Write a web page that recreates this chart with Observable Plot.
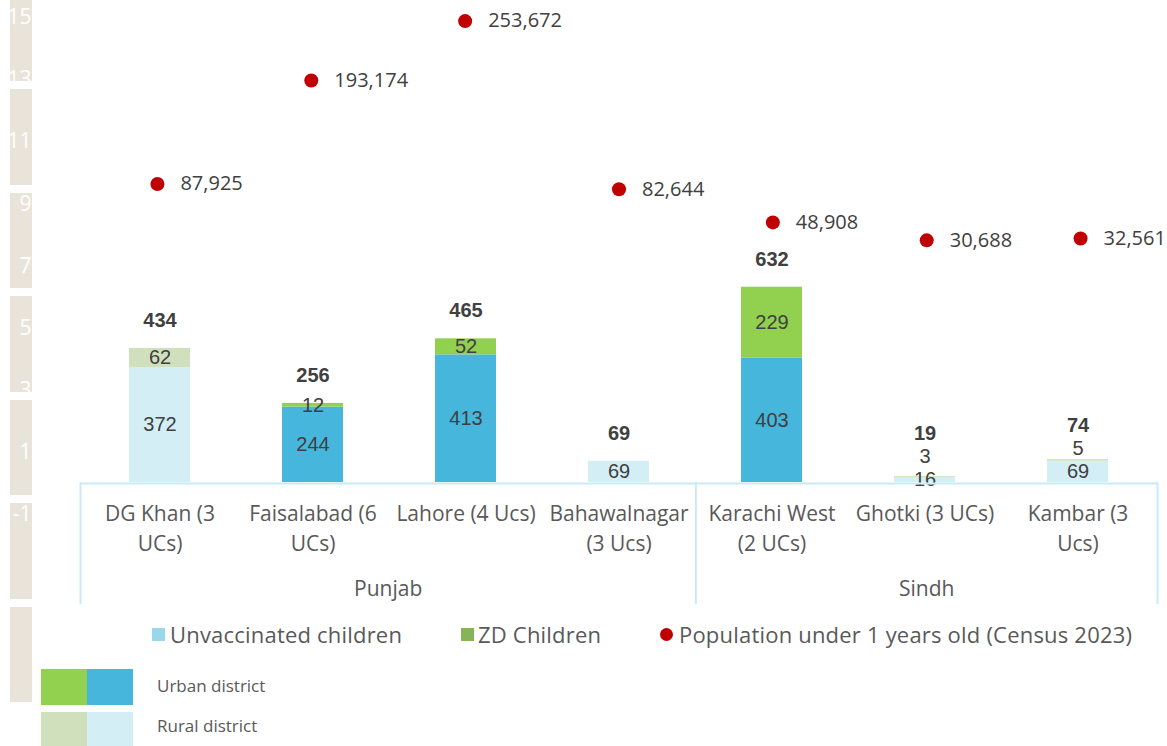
<!DOCTYPE html>
<html><head><meta charset="utf-8">
<script src="https://cdn.jsdelivr.net/npm/d3@7"></script>
<script src="https://cdn.jsdelivr.net/npm/@observablehq/plot@0.6"></script>
<style>
body{margin:0;background:#fff;}
#wrap{position:relative;width:1167px;height:746px;overflow:hidden;font-family:"Open Sans",sans-serif;}
.layer{position:absolute;left:0;}
.box{position:absolute;left:10px;width:22px;background:#e8e4da;}
.leg{position:absolute;font-size:22px;letter-spacing:0.2px;color:#595959;line-height:28px;white-space:nowrap;}
.sw{position:absolute;}
.small{position:absolute;font-size:17px;color:#595959;line-height:22px;}
</style></head><body><div id="wrap"></div>
<script>
// ---- data ----
const districts = ["DG Khan (3 UCs)", "Faisalabad (6 UCs)", "Lahore (4 Ucs)", "Bahawalnagar (3 Ucs)", "Karachi West (2 UCs)", "Ghotki (3 UCs)", "Kambar (3 Ucs)"];
const tickLabels = ["DG Khan (3\nUCs)", "Faisalabad (6\nUCs)", "Lahore (4 Ucs)", "Bahawalnagar\n(3 Ucs)", "Karachi West\n(2 UCs)", "Ghotki (3 UCs)", "Kambar (3\nUcs)"];
const provinces = ["Punjab", "Punjab", "Punjab", "Punjab", "Sindh", "Sindh", "Sindh"];
const districtType = ["Rural", "Urban", "Urban", "Rural", "Urban", "Rural", "Rural"];
const unvaccinated = [372, 244, 413, 69, 403, 16, 69];
const zdChildren = [62, 12, 52, 0, 229, 3, 5];
const totals = [434, 256, 465, 69, 632, 19, 74];
const population = [87925, 193174, 253672, 82644, 48908, 30688, 32561];
const sideTicks = [15, 13, 11, 9, 7, 5, 3, 1, -1];

const wrap = document.getElementById("wrap");
const FONT = '"Open Sans", sans-serif';
const NUMFONT = '"Liberation Sans", Arial, sans-serif';

// ---- left decorative strip ----
for (let k = 0; k < 7; k++) {
  const b = document.createElement("div");
  b.className = "box";
  b.style.top = (-14.5 + 103.5 * k) + "px";
  b.style.height = "95.5px";
  wrap.appendChild(b);
}
const side = Plot.plot({
  width: 40, height: 746, marginLeft: 31, marginRight: 9, marginTop: 0, marginBottom: 0,
  style: {fontFamily: FONT, background: "transparent", color: "#fff", overflow: "visible"},
  y: {domain: [-1, 15], range: [514, 17]},
  marks: [
    Plot.axisY({ticks: sideTicks, anchor: "left", tickSize: 0, tickPadding: 0, fontSize: 21, tickFormat: d => String(d), label: null})
  ]
});
side.classList.add("layer"); side.style.top = "0px";
wrap.appendChild(side);

// ---- main bars ----
const Y_MAX = 1560, BASE = 482;
const pxPerUnit = BASE / Y_MAX;
const segs = [];
const labels = [];
const totalData = [];
districts.forEach((d, i) => {
  const u = unvaccinated[i], z = zdChildren[i];
  segs.push({district: d, key: districtType[i] + " unvac", value: u});
  segs.push({district: d, key: districtType[i] + " zd", value: z});
  const uMid = u / 2;
  labels.push({district: d, y: uMid, text: u});
  let topLabel = uMid;
  if (z > 0) {
    const zy = Math.max(u + z / 2, uMid + 23 / pxPerUnit);
    labels.push({district: d, y: zy, text: z});
    topLabel = zy;
  }
  // total label: above bar top, kept clear of the highest segment label
  const ty = Math.max(totals[i] + 28 / pxPerUnit, topLabel + 23 / pxPerUnit);
  totalData.push({district: d, y: ty, total: totals[i]});
});

const main = Plot.plot({
  width: 1167, height: 610, marginTop: 0, marginBottom: 610 - BASE, marginLeft: 80, marginRight: 10,
  style: {fontFamily: FONT, background: "transparent", color: "#595959", overflow: "visible"},
  x: {domain: districts, paddingInner: 0.6, paddingOuter: 0.3, label: null},
  y: {domain: [0, Y_MAX], axis: null},
  color: {domain: ["Urban unvac", "Urban zd", "Rural unvac", "Rural zd"], range: ["#46b6dc", "#92d050", "#d4eef6", "#d0dfbc"]},
  marks: [
    Plot.barY(segs, {x: "district", y: "value", fill: "key"}),
    Plot.text(labels, {x: "district", y: "y", text: "text", fontSize: 20, fontFamily: NUMFONT, fill: "#404040"}),
    Plot.text(totalData, {x: "district", y: "y", text: "total", fontSize: 20, fontFamily: NUMFONT, fontWeight: "bold", fill: "#404040"}),
    Plot.axisX({tickSize: 0, tickPadding: 17, fontSize: 21, lineHeight: 1.43, tickFormat: d => tickLabels[districts.indexOf(d)], label: null})
  ]
});
main.classList.add("layer"); main.style.top = "0px";
wrap.appendChild(main);

// ---- group axis (Punjab / Sindh) ----
const groupNames = Array.from(new Set(provinces));
const groups = groupNames.map(g => {
  const idx = provinces.map((p, i) => p === g ? i : -1).filter(i => i >= 0);
  return {name: g, center: d3.mean(idx), start: d3.min(idx) - 0.5, end: d3.max(idx) + 0.5};
});
const bounds = Array.from(new Set(groups.flatMap(g => [g.start, g.end])));
const groupAxis = Plot.plot({
  width: 1167, height: 122, marginTop: 0, marginBottom: 0, marginLeft: 80, marginRight: 10,
  style: {fontFamily: FONT, background: "transparent", color: "#595959", overflow: "visible"},
  x: {domain: [-0.5, districts.length - 0.5], axis: null},
  y: {domain: [0, 1], range: [1, 121], axis: null},
  marks: [
    Plot.ruleX(bounds, {stroke: "#c8ebf7", strokeWidth: 2}),
    Plot.ruleY([0], {x1: -0.5, x2: districts.length - 0.5, stroke: "#c8ebf7", strokeWidth: 2}),
    Plot.text(groups, {x: "center", text: "name", frameAnchor: "bottom", dy: -9, fontSize: 21, fill: "#595959"})
  ]
});
groupAxis.classList.add("layer"); groupAxis.style.top = "482px";
wrap.appendChild(groupAxis);

// ---- population dots (secondary axis) ----
const popData = population.map((p, i) => ({i, pop: p}));
const dots = Plot.plot({
  width: 1167, height: 270, marginTop: 0, marginBottom: 0, marginLeft: 80, marginRight: 10,
  style: {fontFamily: FONT, background: "transparent", overflow: "visible"},
  x: {domain: [-0.5, districts.length - 0.5], axis: null},
  y: {domain: [0, 274600], axis: null},
  marks: [
    Plot.dot(popData, {x: "i", y: "pop", r: 7, fill: "#c00000"}),
    Plot.text(popData, {x: "i", y: "pop", text: d => d3.format(",")(d.pop), textAnchor: "start", dx: 23, fontSize: 20, fill: "#404040"})
  ]
});
dots.classList.add("layer"); dots.style.top = "0px";
wrap.appendChild(dots);

// ---- legends ----
function el(cls, css, html) {
  const e = document.createElement("div");
  e.className = cls; Object.assign(e.style, css); if (html) e.textContent = html;
  wrap.appendChild(e); return e;
}
el("sw", {left: "152px", top: "628px", width: "13px", height: "13px", background: "#9ad7ea"});
el("leg", {left: "170px", top: "620px"}, "Unvaccinated children");
el("sw", {left: "461px", top: "628px", width: "13px", height: "13px", background: "#86b559"});
el("leg", {left: "478px", top: "620px"}, "ZD Children");
el("sw", {left: "660px", top: "628px", width: "13px", height: "13px", background: "#c00000", borderRadius: "50%"});
el("leg", {left: "679px", top: "620px"}, "Population under 1 years old (Census 2023)");

el("sw", {left: "41px", top: "669px", width: "46px", height: "36px", background: "#92d050"});
el("sw", {left: "87px", top: "669px", width: "46px", height: "36px", background: "#46b6dc"});
el("sw", {left: "41px", top: "712px", width: "46px", height: "34px", background: "#d0dfbc"});
el("sw", {left: "87px", top: "712px", width: "46px", height: "34px", background: "#d4eef6"});
el("small", {left: "157px", top: "675px"}, "Urban district");
el("small", {left: "157px", top: "715px"}, "Rural district");
</script>
</body></html>
